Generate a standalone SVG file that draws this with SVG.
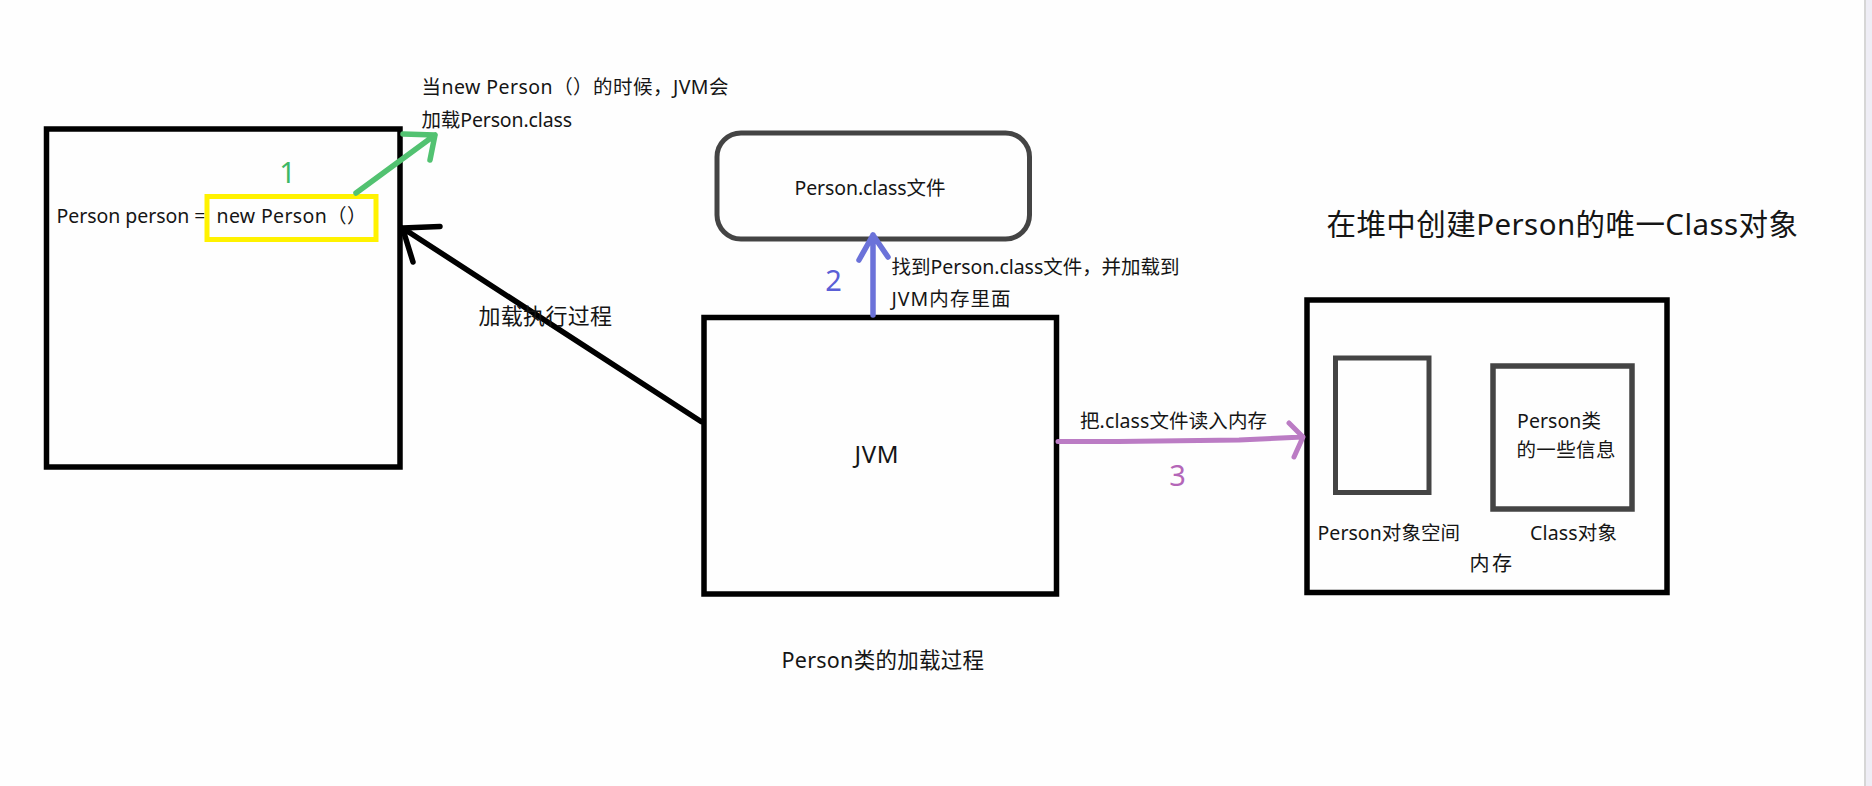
<svg xmlns="http://www.w3.org/2000/svg" width="1872" height="786" viewBox="0 0 1872 786">
<defs>
<style>
text{font-family:"Noto Sans","Noto Sans CJK SC",sans-serif;fill:#151515;font-size:19.5px}
.box{fill:none;stroke:#000;stroke-width:5.5}
.gbox{fill:none;stroke:#444;stroke-width:5}
.ybox{fill:none;stroke:#fff200;stroke-width:5}
.ln{fill:none;stroke-width:5.5;stroke-linecap:round;stroke-linejoin:round}
.num{font-size:29px}
.mid{text-anchor:middle}
</style>
</defs>
<rect x="0" y="0" width="1872" height="786" fill="#fefefe"/>
<rect x="1866" y="0" width="6" height="786" fill="#eeedf5"/>
<line x1="1865" y1="0" x2="1865" y2="786" stroke="#d6d6d6" stroke-width="2"/>

<g id="code-node">
<rect class="box" x="46.5" y="129" width="353.5" height="338"/>
<text x="56.5" y="223" textLength="149">Person person =</text>
</g>
<g id="new-person-node">
<rect class="ybox" x="207" y="196.5" width="169" height="43"/>
<text x="216.5" y="223" textLength="150">new Person（）</text>
</g>
<g id="class-file-node">
<rect class="gbox" x="717" y="133" width="312.5" height="106" rx="24"/>
<text x="794.5" y="195" textLength="151">Person.class文件</text>
</g>
<g id="jvm-node">
<rect class="box" x="704" y="317.5" width="352.5" height="276.5"/>
<text x="854.5" y="462.5" style="font-size:24px" textLength="44">JVM</text>
</g>
<g id="memory-node">
<rect class="box" x="1307" y="300" width="360" height="292.5"/>
<text x="1469.5" y="571" style="font-size:20px" textLength="42.5">内存</text>
</g>
<g id="person-object-node">
<rect class="gbox" x="1335.5" y="358" width="93.5" height="134.5"/>
<text x="1317.5" y="540" textLength="142.5">Person对象空间</text>
</g>
<g id="class-object-node">
<rect class="gbox" x="1493" y="366" width="139" height="143" style="stroke-width:5.5"/>
<text x="1517" y="428" textLength="84">Person类</text>
<text x="1516.5" y="457" textLength="99">的一些信息</text>
<text x="1530" y="540" textLength="87">Class对象</text>
</g>
<g id="title">
<text x="1326.5" y="235" style="font-size:29.5px" textLength="471.5">在堆中创建Person的唯一Class对象</text>
</g>
<g id="caption">
<text x="781.5" y="668" style="font-size:21.5px" textLength="202.5">Person类的加载过程</text>
</g>

<g id="connectors">
<g id="edge-1">
<path class="ln" stroke="#52c271" d="M356 193 L435 135 M403 134 L435 135 L430 160"/>
<text class="num mid" x="287.5" y="182.5" style="fill:#3db866">1</text>
<text x="421.5" y="94" textLength="307">当new Person（）的时候，JVM会</text>
<text x="421.5" y="127" textLength="150.5">加载Person.class</text>
</g>
<g id="edge-load">
<path class="ln" stroke="#000" d="M701 421.5 L402.5 228 M440 226.5 L402.5 228 L413 262"/>
<text x="478.5" y="324" style="font-size:22px" textLength="133.5">加载执行过程</text>
</g>
<g id="edge-2">
<path class="ln" stroke="#6b72d9" d="M873 315 L873 235 M859 260 L873 235 L888 257"/>
<text class="num mid" x="833.5" y="290.5" style="fill:#5a5fd6">2</text>
<text x="891.5" y="273.5" textLength="288">找到Person.class文件，并加载到</text>
<text x="891.5" y="305.5" textLength="119">JVM内存里面</text>
</g>
<g id="edge-3">
<path class="ln" stroke="#bb7cc4" d="M1058 441.5 L1118 441.5 L1239 440 L1303 437 M1289 423 L1303 437 L1294 457" style="stroke-width:5"/>
<text class="num mid" x="1177.5" y="486" style="fill:#b466b8">3</text>
<text x="1080" y="428" textLength="187">把.class文件读入内存</text>
</g>
</g>
</svg>
